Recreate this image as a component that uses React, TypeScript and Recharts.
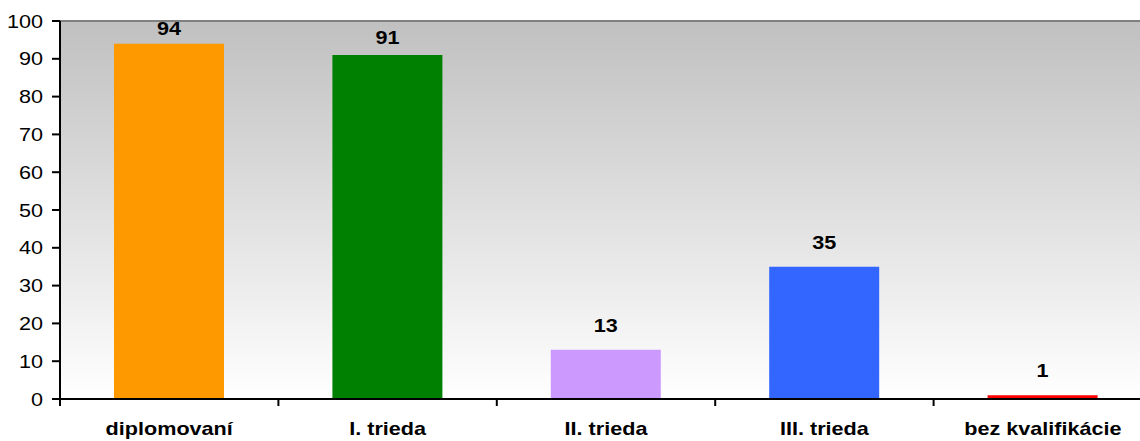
import React from "react"
import { BarChart, Bar, XAxis, YAxis, Cell, LabelList, CartesianGrid, ReferenceLine } from "recharts"

const categories = ["diplomovaní", "I. trieda", "II. trieda", "III. trieda", "bez kvalifikácie"]
const counts = [94, 91, 13, 35, 1]
const barColors = ["#FF9900", "#008000", "#CC99FF", "#3366FF", "#FF0000"]
const yTicks = [0, 10, 20, 30, 40, 50, 60, 70, 80, 90, 100]

const data = categories.map((name, i) => ({ name, value: counts[i] }))

const FONT = "'Liberation Sans', Arial, sans-serif"
const STRETCH = 1.2
const PLOT_TOP = 21

const YTick = ({ x, y, payload }: any) => (
  <g transform={`translate(${x - 1},${y}) scale(${STRETCH},1)`}>
    <text x={0} y={0} dy={6.5} textAnchor="end" fontFamily={FONT} fontSize={18} fill="#000">
      {payload.value}
    </text>
  </g>
)

const XTick = ({ x, y, payload, index }: any) => {
  const half = payload.offset || 109
  const last = index === categories.length - 1
  return (
    <g>
      <line x1={x - half} x2={x - half} y1={y} y2={y + 7} stroke="#000" strokeWidth={2} />
      {last && <line x1={x + half} x2={x + half} y1={y} y2={y + 7} stroke="#000" strokeWidth={2} />}
      <g transform={`translate(${x},${y + 36}) scale(${STRETCH},1)`}>
        <text x={0} y={0} textAnchor="middle" fontFamily={FONT} fontWeight="bold" fontSize={18} fill="#000">
          {payload.value}
        </text>
      </g>
    </g>
  )
}

// labels sit 18px above the bar, squeezed closer when the bar nears the top edge
const ValueLabel = ({ x, y, width, value }: any) => {
  const crowd = Math.max(0, PLOT_TOP + 66 - y)
  const gap = 18 - 0.21 * crowd
  return (
    <g transform={`translate(${x + width / 2},${y - gap}) scale(${STRETCH},1)`}>
      <text x={0} y={0} textAnchor="middle" fontFamily={FONT} fontWeight="bold" fontSize={18} fill="#000">
        {value}
      </text>
    </g>
  )
}

export default function App() {
  return (
    <div style={{ position: "absolute", left: 0, top: 0, width: 1140, height: 441, overflow: "hidden", background: "#fff" }}>
      <BarChart width={1160} height={441} data={data} margin={{ top: PLOT_TOP, right: 8, bottom: 0, left: 0 }}>
        <defs>
          <linearGradient id="plotBg" x1="0" y1="0" x2="0" y2="1">
            <stop offset="0%" stopColor="#C0C0C0" />
            <stop offset="100%" stopColor="#FFFFFF" />
          </linearGradient>
        </defs>
        <CartesianGrid horizontal={false} vertical={false} fill="url(#plotBg)" fillOpacity={1} />
        <ReferenceLine y={100} stroke="#808080" strokeWidth={2} />
        <XAxis
          dataKey="name"
          height={42}
          axisLine={{ stroke: "#000", strokeWidth: 2 }}
          tickLine={false}
          tickSize={0}
          tickMargin={0}
          interval={0}
          tick={<XTick />}
        />
        <YAxis
          width={60}
          domain={[0, 100]}
          ticks={yTicks}
          interval={0}
          axisLine={{ stroke: "#000", strokeWidth: 2 }}
          tickLine={{ stroke: "#000", strokeWidth: 2 }}
          tickSize={8}
          tickMargin={8}
          tick={<YTick />}
        />
        <Bar dataKey="value" barSize={110} isAnimationActive={false}>
          {data.map((d, i) => (
            <Cell key={d.name} fill={barColors[i]} />
          ))}
          <LabelList dataKey="value" content={<ValueLabel />} />
        </Bar>
      </BarChart>
    </div>
  )
}
